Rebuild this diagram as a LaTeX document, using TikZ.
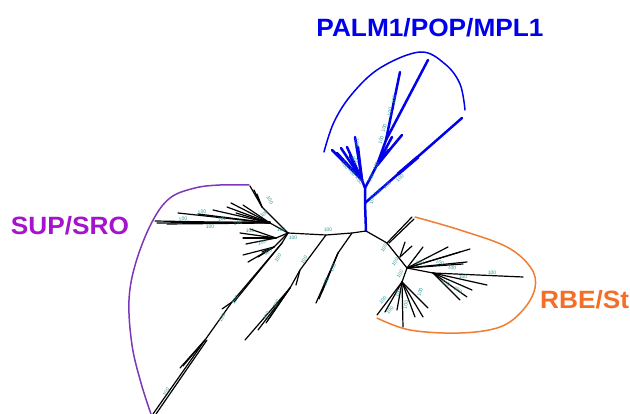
\documentclass[tikz,border=0pt]{standalone}
\usepackage{fontspec}
\setsansfont{Liberation Sans}
\definecolor{palmblue}{RGB}{0,0,235}
\definecolor{suptext}{RGB}{165,20,205}
\definecolor{suparc}{RGB}{125,55,185}
\definecolor{rbetext}{RGB}{245,110,40}
\definecolor{rbearc}{RGB}{240,125,50}
\definecolor{labteal}{RGB}{40,150,150}
\tikzset{
  blk/.style={black,line width=1.2pt,line cap=round},
  blu/.style={palmblue,line width=2.5pt,line cap=round},
  arcline/.style={line width=1.5pt,line cap=round},
  lab/.style={text=labteal,font=\sffamily\fontsize{5}{5}\selectfont,inner sep=0pt},
  title/.style={font=\sffamily\bfseries\fontsize{25}{25}\selectfont,inner sep=0pt,anchor=base}
}
\begin{document}
\begin{tikzpicture}[x=1pt,y=-1pt]
\useasboundingbox (0,0) rectangle (630,414);
% ---------- key coordinates ----------
\coordinate (R) at (366,231);
\coordinate (N1) at (352,233);
\coordinate (N2) at (326,235);
\coordinate (SH) at (288,233);
\coordinate (SA) at (270,223);
\coordinate (SB) at (262,207);
\coordinate (SC) at (276,238);
\coordinate (SD) at (274,247);
\coordinate (L1) at (338,253);
\coordinate (L2) at (300,270);
\coordinate (L2h) at (290,288);
\coordinate (L3a) at (282,243);
\coordinate (L3b) at (232,302);
\coordinate (L3c) at (205,340);
% blue
\coordinate (B0) at (365,203);
\coordinate (B1) at (365,188);
\coordinate (BL) at (362,180);
\coordinate (BM) at (377,165);
\coordinate (BN) at (386,140);
% rbe
\coordinate (O1) at (387,243);
\coordinate (OH) at (407,268);
\coordinate (OR) at (433,273);
\coordinate (OD) at (402,282);
\coordinate (OU) at (400,257);
% ---------- black: central and left ----------
\draw[blk] (R) -- (N1) -- (N2) -- (SH);
\draw[blk] (N1) -- (L1);
\foreach \p in {(316,303),(319,299),(322,292)} \draw[blk] (L1) -- \p;
\draw[blk] (N2) -- (L2) -- (L2h);
\foreach \p in {(245,340),(258,330),(266,323),(268,320)} \draw[blk] (L2h) -- \p;
\draw[blk] (L2) -- (296,285);
% long branch
\draw[blk] (SH) -- (L3a) -- (L3b) -- (L3c) -- (153,414);
\draw[blk] (L3a) -- ([xshift=2pt]L3b);
\draw[blk] (L3b) -- (222,309);
\draw[blk] (L3c) -- (180,368);
\draw[blk] (L3c) -- (183,366);
\draw[blk] ([xshift=2pt]L3c) -- (156,414);
% SUP fan
\draw[blk] (SH) -- (SA);
\draw[blk] (SH) -- (SB) -- (250,186);
\draw[blk] (SB) -- (254,190);
\draw[blk] (SB) -- (257,194);
\foreach \p in {(155,221),(167,224),(178,213),(198,214),(213,210),(227,207),(231,203),(243,205),(236,213)}
  \draw[blk] (SA) -- \p;
\draw[blk] ([yshift=1.2pt]SA) -- (157,223);
\draw[blk] (SH) -- (SC);
\foreach \p in {(240,233),(243,238),(246,244),(250,229)} \draw[blk] (SC) -- \p;
\draw[blk] (SH) -- (SD);
\foreach \p in {(243,255),(248,262),(258,257),(262,252)} \draw[blk] (SD) -- \p;
% ---------- blue clade ----------
\draw[blu] (R) -- (B0) -- (B1) -- (BL);
\draw[blu] (B0) -- (462,118);
\draw[blu,line width=3.4pt] (398,174) -- (418,157);
\foreach \p in {(332,150),(337,153),(341,148),(347,147),(355,137),(358,147),(350,156)}
  \draw[blu] (BL) -- \p;
\draw[blu] (B1) -- (BM) -- (BN) -- (428,60);
\draw[blu] (BN) -- (400,72);
\draw[blu] (BM) -- (402,135);
\draw[blu] (BM) -- (392,137);
\draw[blu,line width=3.2pt] (BM) -- (389,150);
% ---------- RBE clade ----------
\draw[blk] (R) -- (O1) -- (OH);
\draw[blk] (O1) -- (412,217);
\draw[blk] ([xshift=2pt]O1) -- (414,219);
\draw[blk] (OU) -- (405,242);
\draw[blk] (OU) -- (412,246);
\foreach \p in {(423,247),(448,247),(460,252),(470,249),(467,262),(463,264)}
  \draw[blk] (OH) -- \p;
\draw[blk] (OH) -- (OR);
\foreach \p in {(523,277),(487,285),(472,290),(467,297),(460,300)}
  \draw[blk] (OR) -- \p;
\draw[blk] (OH) -- (OD);
\foreach \p in {(377,315),(385,312),(397,310),(403,327),(415,317),(423,317),(428,308)}
  \draw[blk] (OD) -- \p;
% ---------- clade outlines ----------
\draw[arcline,palmblue] plot[smooth,tension=0.6] coordinates {(324,152) (334,122) (352,94) (380,68) (420,52) (445,64) (460,84) (465,110)};
\draw[arcline,suparc] plot[smooth,tension=0.6] coordinates {(249,185) (220,185) (195,188) (170,198) (152,222) (136,262) (129,300) (132,345) (141,383) (151,414)};
\draw[arcline,rbearc] plot[smooth,tension=0.6] coordinates {(415,217) (460,230) (507,247) (531,268) (535,288) (523,310) (500,327) (460,333) (410,330) (377,318)};
% ---------- bootstrap labels ----------
\foreach \x/\y/\a [count=\i] in {
  372/200/80, 378/192/41, 387/185/41, 400/178/41,
  371/178/67, 376/166/67, 381/140/75, 384/128/75, 390/112/80, 394/100/80,
  345/165/-50, 352/172/-50, 359/180/-50, 355/160/-60, 357/143/-90,
  328/230/0, 183/219/5, 202/212/5, 210/227/0, 222/219/10, 238/223/5, 250/231/0,
  264/214/40, 270/200/-60, 262/242/20, 268/252/30, 293/238/0, 281/230/0,
  333/268/65, 326/282/65, 304/260/55, 276/304/55, 266/316/55,
  278/258/55, 235/300/55, 222/318/55, 166/392/55,
  384/248/60, 395/262/55, 400/274/60, 398/293/75, 406/305/80,
  383/300/45, 390/310/45, 440/262/-20, 452/268/-10, 446/283/-20, 458/290/-30,
  463/277/0, 492/273/0, 420/263/0, 420/292/75}
  \node[lab,rotate=\a] (lab\i) at (\x,\y) {100};
% ---------- clade names ----------
\node[title,text=palmblue] (palm) at (430,37) {\scalebox{1.05}[1]{PALM1/POP/MPL1}};
\node[title,text=suptext] (sup) at (70,235) {\scalebox{1.05}[1]{SUP/SRO}};
\node[title,text=rbetext,anchor=base west] (rbe) at (540,309) {\scalebox{1.05}[1]{RBE/St}};
\end{tikzpicture}
\end{document}
